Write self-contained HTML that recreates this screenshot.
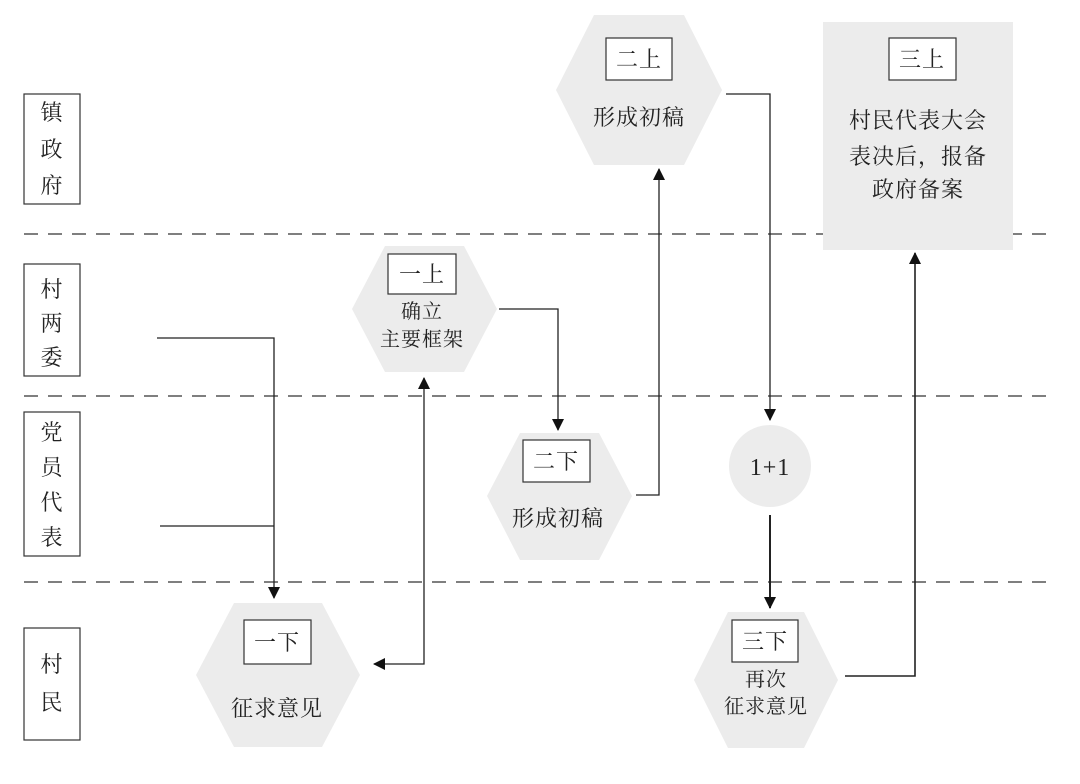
<!DOCTYPE html>
<html><head><meta charset="utf-8"><style>
html,body{margin:0;padding:0;background:#fff;}
svg text{font-family:"Liberation Serif","Noto Serif CJK SC","WenQuanYi Zen Hei",serif;fill:#222;letter-spacing:1px;}
</style></head><body>
<svg width="1080" height="779" viewBox="0 0 1080 779" xmlns="http://www.w3.org/2000/svg">
<defs>
<marker id="a" markerWidth="12" markerHeight="12" refX="11" refY="6" orient="auto" markerUnits="userSpaceOnUse">
<path d="M0,0 L12,6 L0,12 z" fill="#111"/>
</marker>
<marker id="as" markerWidth="12" markerHeight="12" refX="1" refY="6" orient="auto" markerUnits="userSpaceOnUse">
<path d="M12,0 L0,6 L12,12 z" fill="#111"/>
</marker>
</defs>
<g stroke="#333" stroke-width="1.2" stroke-dasharray="14,10">
<line x1="24" y1="234" x2="1056" y2="234"/>
<line x1="24" y1="396" x2="1056" y2="396"/>
<line x1="24" y1="582" x2="1056" y2="582"/>
</g>
<g fill="#fff" stroke="#333" stroke-width="1.2">
<rect x="24" y="94" width="56" height="110"/>
<rect x="24" y="264" width="56" height="112"/>
<rect x="24" y="412" width="56" height="144"/>
<rect x="24" y="628" width="56" height="112"/>
</g>
<g font-size="22" text-anchor="middle">
<text x="52" y="120">镇</text><text x="52" y="157">政</text><text x="52" y="193">府</text>
<text x="52" y="297">村</text><text x="52" y="331">两</text><text x="52" y="365">委</text>
<text x="52" y="440">党</text><text x="52" y="475">员</text><text x="52" y="510">代</text><text x="52" y="545">表</text>
<text x="52" y="672">村</text><text x="52" y="710">民</text>
</g>
<g fill="#ececec">
<polygon points="556,90 594,15 684,15 722,90 684,165 594,165"/>
<rect x="823" y="22" width="190" height="228"/>
<polygon points="352,309 385,246 464,246 497,309 464,372 385,372"/>
<polygon points="487,496 520,433 599,433 632,496 599,560 520,560"/>
<circle cx="770" cy="466" r="41"/>
<polygon points="196,675 234,603 322,603 360,675 322,747 234,747"/>
<polygon points="694,680 728,612 804,612 838,680 804,748 728,748"/>
</g>
<g fill="#fff" stroke="#333" stroke-width="1.2">
<rect x="606" y="38" width="66" height="42"/>
<rect x="889" y="38" width="67" height="42"/>
<rect x="388" y="254" width="68" height="40"/>
<rect x="523" y="440" width="67" height="42"/>
<rect x="244" y="620" width="67" height="44"/>
<rect x="732" y="620" width="66" height="42"/>
</g>
<g font-size="22" text-anchor="middle">
<text x="639" y="67">二上</text>
<text x="922" y="67">三上</text>
<text x="422" y="282">一上</text>
<text x="556" y="469">二下</text>
<text x="277" y="650">一下</text>
<text x="765" y="649">三下</text>
<text x="639" y="125">形成初稿</text>
<text x="918" y="128">村民代表大会</text>
<text x="918" y="164">表决后，报备</text>
<text x="918" y="197">政府备案</text>
<text x="422" y="318" font-size="20">确立</text>
<text x="422" y="346" font-size="20">主要框架</text>
<text x="558" y="526">形成初稿</text>
<text x="770" y="475" font-size="24" letter-spacing="0">1+1</text>
<text x="277" y="716">征求意见</text>
<text x="766" y="686" font-size="20">再次</text>
<text x="766" y="713" font-size="20">征求意见</text>
</g>
<g fill="none" stroke="#222" stroke-width="1.3">
<polyline points="157,338 274,338 274,598" marker-end="url(#a)"/>
<line x1="160" y1="526" x2="274" y2="526"/>
<polyline points="424,378 424,664 374,664" marker-start="url(#as)" marker-end="url(#a)"/>
<polyline points="499,309 558,309 558,430" marker-end="url(#a)"/>
<polyline points="636,495 659,495 659,169" marker-end="url(#a)"/>
<polyline points="726,94 770,94 770,420" marker-end="url(#a)"/>
<line x1="770" y1="515" x2="770" y2="608" stroke-width="2" marker-end="url(#a)"/>
<polyline points="845,676 915,676 915,253" stroke-width="1.6" marker-end="url(#a)"/>
</g>
</svg>
</body></html>
